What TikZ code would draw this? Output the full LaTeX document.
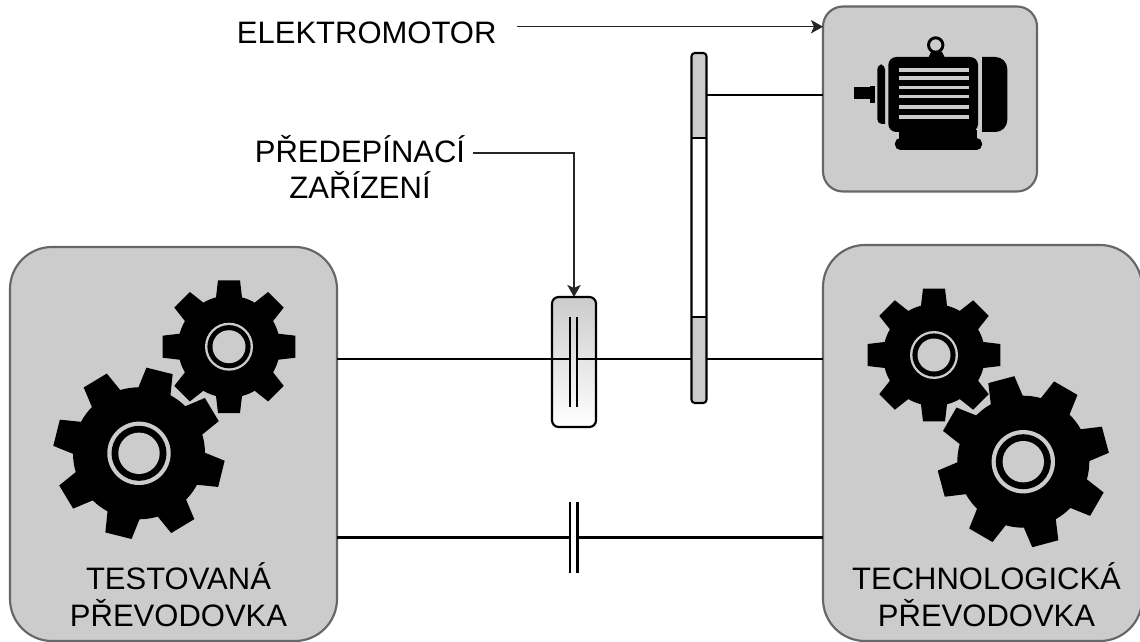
\documentclass[tikz,border=0pt]{standalone}
\usepackage{fontspec}
\setmainfont{Liberation Sans}
\usetikzlibrary{arrows.meta,calc}
\definecolor{boxgrey}{HTML}{CCCCCC}
\definecolor{edgegrey}{HTML}{666666}
\tikzset{
  unit/.style 2 args={minimum width=#1*0.75pt,minimum height=#2*0.75pt,inner sep=0pt,outer sep=0pt},
  housing/.style={draw=edgegrey,line width=1.6pt,fill=boxgrey,rounded corners=#1},
  shaft/.style={line width=1.6pt,black},
  plate/.style={line width=2.1pt,black},
  pointer/.style={line width=1.2pt,draw=black!85,-{Stealth[length=9pt,width=10pt,inset=2.2pt]}},
  label/.style={inner sep=0pt,outer sep=0pt,align=center,font=\fontsize{23.25}{27.5}\selectfont},
}
% centre x, centre y, R, r, half tip, half base, visual rotation, ring outer, ring width, hole
\newcommand\gearshape[8]{%
  \pgfmathsetmacro\gtip{asin(#5/#3)}%
  \pgfmathsetmacro\gbase{asin(#6/#4)}%
  \pgfmathsetmacro\gstep{(45-2*\gbase)/4}%
  \begin{scope}[shift={(#1,#2)}]
    \fill[black] ({-#7+\gbase}:#4)
      \foreach \i in {0,...,7}{
        -- ({-#7+\i*45+\gbase+\gstep}:#4)
        -- ({-#7+\i*45+\gbase+2*\gstep}:#4)
        -- ({-#7+\i*45+\gbase+3*\gstep}:#4)
        -- ({-#7+\i*45+45-\gbase}:#4)
        -- ({-#7+\i*45+45-\gtip}:#3)
        -- ({-#7+\i*45+45+\gtip}:#3)
        -- ({-#7+\i*45+45+\gbase}:#4)
      } -- cycle;
    \fill[boxgrey] (0,0) circle[radius=#8];
  \end{scope}}
\newcommand\gearring[4]{%
  \fill[black] (#1,#2) circle[radius=#3];
  \fill[boxgrey] (#1,#2) circle[radius=#4];}
\begin{document}
\begin{tikzpicture}[x=0.75pt,y=-0.75pt]
\clip (0,0) rectangle (1140,642);

% housings
\node[housing=31.5pt,unit={327}{394}] (test) at (173.5,444) {};
\node[housing=31.5pt,unit={319}{396}] (tech) at (982.5,443) {};
\node[housing=15pt,unit={214}{185}] (motor) at (930,99) {};

% shaft reference points
\coordinate (upperL) at (570,359.3);
\coordinate (upperR) at (577,359.3);
\coordinate (lowerL) at (570,537.5);
\coordinate (lowerR) at (577.3,537.5);
\coordinate (driveY) at (700,95);

% preload clutch
\node[draw=black,line width=1.6pt,rounded corners=5pt,top color=boxgrey,bottom color=white,unit={44}{130}] (clutch) at (574,362) {};

% upper shaft
\draw[shaft] (test.east |- upperL) -- (upperL);
\draw[shaft] (upperR) -- (tech.west |- upperR);

% belt wheel
\node[draw=black,line width=1.6pt,fill=white,rounded corners=2.5pt,unit={15}{350},
  path picture={
    \fill[boxgrey] (path picture bounding box.north west) rectangle ([yshift=-63.75pt]path picture bounding box.north east);
    \fill[boxgrey] (path picture bounding box.south west) rectangle ([yshift=64.5pt]path picture bounding box.south east);
    \draw[line width=1.6pt] ([yshift=-63.75pt]path picture bounding box.north west) -- ([yshift=-63.75pt]path picture bounding box.north east);
    \draw[line width=1.6pt] ([yshift=64.5pt]path picture bounding box.south west) -- ([yshift=64.5pt]path picture bounding box.south east);
  }] (wheel) at (699,228) {};
\draw[shaft] (wheel.east |- driveY) -- (motor.west |- driveY);

% clutch plates
\coordinate (plateAt) at (570,317);
\coordinate (plateAb) at (570,407);
\coordinate (plateBt) at (577,317);
\coordinate (plateBb) at (577,407);
\draw[plate] (plateAt) -- (plateAb);
\draw[plate] (plateBt) -- (plateBb);

% lower shaft with coupling
\coordinate (cplAt) at (570,502);
\coordinate (cplAb) at (570,573);
\coordinate (cplBt) at (577.3,502);
\coordinate (cplBb) at (577.3,573);
\draw[shaft] (test.east |- lowerL) -- (lowerL);
\draw[shaft] (lowerR) -- (tech.west |- lowerR);
\draw[plate] (cplAt) -- (cplAb);
\draw[plate] (cplBt) -- (cplBb);

% gears
\gearshape{229}{346.7}{67.3}{51}{11}{13}{0}{24}
\gearring{229}{346.7}{21.6}{16.5}
\gearshape{139}{453.3}{86}{66}{13.5}{16.5}{76}{31.7}
\gearring{139}{453.3}{27.5}{20.7}
\gearshape{934}{355}{67.3}{51}{11}{13}{0}{24}
\gearring{934}{355}{21.6}{16.5}
\gearshape{1023.3}{461.7}{86}{66}{13.5}{16.5}{105}{31.7}
\gearring{1023.3}{461.7}{27.5}{20.7}

% electric motor icon
\fill[black] (877.3,94) [rounded corners=3.5pt] -- (877.3,64.5) -- (885,64.5) [sharp corners] -- (885,124) [rounded corners=3.5pt] -- (877.3,124) [sharp corners] -- cycle;
\fill[black] (854.3,87.3) rectangle (871,99);
\fill[black] (870,86) rectangle (875,103.3);
\fill[black] (978,95) [rounded corners=6pt] -- (978,57) -- (888.3,57) -- (888.3,132) -- (978,132) [sharp corners] -- cycle;
\fill[black] (982,57) [rounded corners=9pt] -- (1007.3,57) -- (1007.3,132) [sharp corners] -- (982,132) -- cycle;
\fill[black] (899,130) -- (977,130) -- (977,140) -- (899,140) -- cycle;
\fill[black,rounded corners=4pt] (895,138) rectangle (982,150);
\fill[black] (928.3,58) -- (931,52) -- (942,52) -- (945,58) -- cycle;
\draw[black,line width=2.2pt] (935.7,45) circle[radius=7.2];
\foreach \ya/\yb in {67.7/71.7,76.3/80.3,86.3/89.3,95/98.3,105.3/108.7,114.7/118.7}{
  \fill[boxgrey] (899.3,\ya) rectangle (969.3,\yb);
}

% labels
\node[label,anchor=base] (lblMotor) at (366.7,43.3) {ELEKTROMOTOR};
\node[label,anchor=base] (lblPre) at (360,199) {PŘEDEPÍNACÍ\\ZAŘÍZENÍ};
\node[label,anchor=base] (lblTest) at (178.5,626) {TESTOVANÁ\\PŘEVODOVKA};
\node[label,anchor=base] (lblTech) at (986.5,626) {TECHNOLOGICKÁ\\PŘEVODOVKA};

% pointers
\coordinate (ptrMotorStart) at (516.7,26.7);
\coordinate (ptrPreStart) at (473,153.3);
\draw[pointer] (ptrMotorStart) -- (motor.west |- ptrMotorStart);
\draw[pointer] (ptrPreStart) -| (clutch.north);
\end{tikzpicture}
\end{document}
